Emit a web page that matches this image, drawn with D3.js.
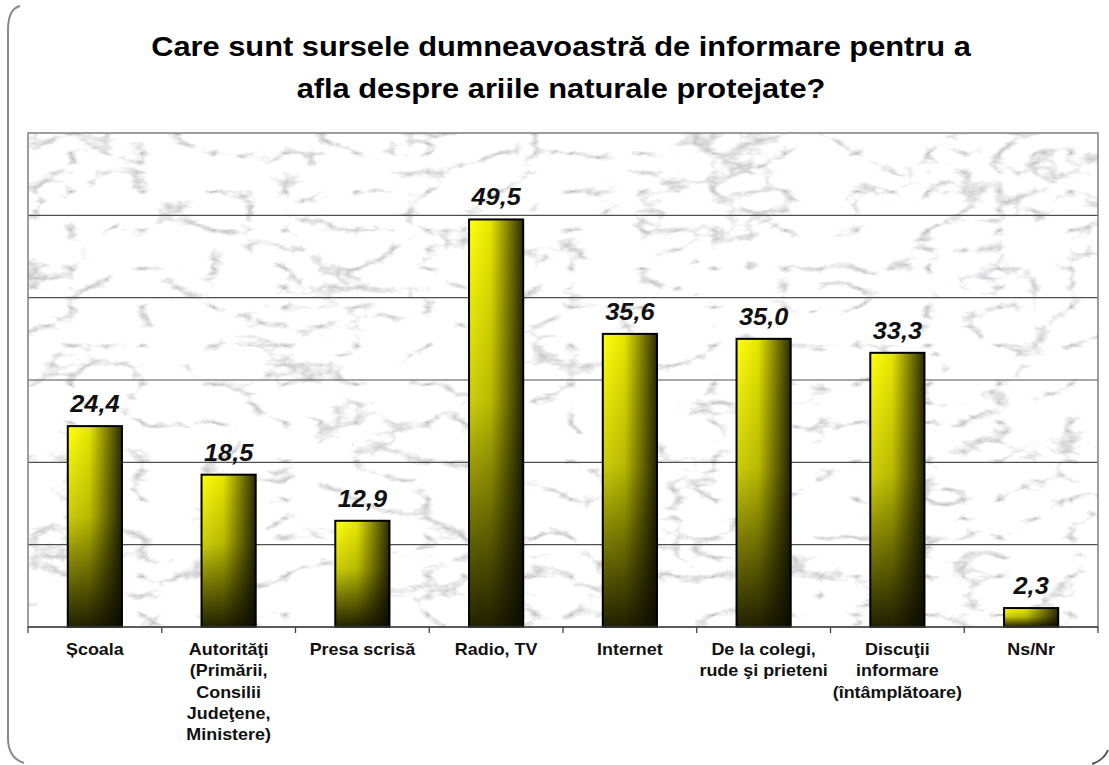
<!DOCTYPE html>
<html>
<head>
<meta charset="utf-8">
<script src="https://cdn.jsdelivr.net/npm/d3@7"></script>
<style>
  body { margin: 0; background: #fff; }
  svg { display: block; font-family: "Liberation Sans", Arial, sans-serif; }
</style>
</head>
<body>
<svg width="1109" height="765"></svg>
<script>
const svg = d3.select("svg");

const width = +svg.attr("width");
const height = +svg.attr("height");

// data
const titleLines = [
    "Care sunt sursele dumneavoastră de informare pentru a",
    "afla despre ariile naturale protejate?"
];
const categories = [
    "Școala",
    "Autorităţi\n(Primării,\nConsilii\nJudeţene,\nMinistere)",
    "Presa scrisă",
    "Radio, TV",
    "Internet",
    "De la colegi,\nrude şi prieteni",
    "Discuţii\ninformare\n(întâmplătoare)",
    "Ns/Nr"
];
const values = [24.4, 18.5, 12.9, 49.5, 35.6, 35.0, 33.3, 2.3];
const yTicks = [0, 10, 20, 30, 40, 50, 60];

const data = categories.map((c, i) => ({ cat: c, val: values[i] }));

const plot = { left: 28, right: 1098, top: 133, bottom: 627 };
const stretch = 1.12; // picture text is a bit wide

const xScale = d3.scaleBand()
    .domain(categories)
    .range([plot.left, plot.right]);

const yScale = d3.scaleLinear()
    .domain([0, d3.max(yTicks)])
    .range([plot.bottom, plot.top]);

const barW = xScale.bandwidth() * 0.405;
const fmt = d => d3.format(".1f")(d).replace(".", ",");

const defs = svg.append("defs");

// marble look for the plot area
const filt = defs.append("filter").attr("id", "marble")
    .attr("x", 0).attr("y", 0).attr("width", "100%").attr("height", "100%");
filt.append("feTurbulence")
    .attr("type", "turbulence")
    .attr("baseFrequency", "0.014 0.026")
    .attr("numOctaves", 5)
    .attr("seed", 11);
filt.append("feColorMatrix")
    .attr("type", "matrix")
    .attr("values",
        "2.2 0 0 0 0.5  2.2 0 0 0 0.5  2.2 0 0 0 0.51  0 0 0 0 1");

const hGrad = defs.append("linearGradient").attr("id", "barH")
    .attr("x1", 0).attr("x2", 1).attr("y1", 0).attr("y2", 0);
hGrad.append("stop").attr("offset", "0%").attr("stop-color", "#ffff10");
hGrad.append("stop").attr("offset", "40%").attr("stop-color", "#e6e600");
hGrad.append("stop").attr("offset", "100%").attr("stop-color", "#2e2c00");

const vGrad = defs.append("linearGradient").attr("id", "barV")
    .attr("x1", 0).attr("x2", 0).attr("y1", 0).attr("y2", 1);
vGrad.append("stop").attr("offset", "0%").attr("stop-color", "#000").attr("stop-opacity", 0);
vGrad.append("stop").attr("offset", "45%").attr("stop-color", "#000").attr("stop-opacity", 0.2);
vGrad.append("stop").attr("offset", "100%").attr("stop-color", "#0a0a00").attr("stop-opacity", 0.9);

// frame at left edge
svg.append("path")
    .attr("d", "M20,6 Q8,9 8,30 L8,738 Q8,758 24,763")
    .attr("fill", "none")
    .attr("stroke", "#8a8a8a")
    .attr("stroke-width", 2);
svg.append("path")
    .attr("d", "M1092,764 Q1104,760 1108,750")
    .attr("fill", "none")
    .attr("stroke", "#555")
    .attr("stroke-width", 2);

// title
svg.append("g").selectAll("text").data(titleLines)
    .enter().append("text")
        .attr("transform", (d, i) => `translate(561, ${56 + i * 42}) scale(1.1,1)`)
        .attr("text-anchor", "middle")
        .attr("font-size", 28)
        .attr("font-weight", "bold")
        .attr("fill", "#000")
        .text(d => d);

// plot area
svg.append("rect")
    .attr("x", plot.left).attr("y", plot.top)
    .attr("width", plot.right - plot.left).attr("height", plot.bottom - plot.top)
    .attr("fill", "#eee")
    .attr("filter", "url(#marble)");

const g = svg.append("g");

// gridlines
g.selectAll("line.grid").data(yTicks.slice(1, -1))
    .enter().append("line")
        .attr("class", "grid")
        .attr("x1", plot.left).attr("x2", plot.right)
        .attr("y1", d => yScale(d)).attr("y2", d => yScale(d))
        .attr("stroke", "#505050")
        .attr("stroke-width", 1.2);

g.append("rect")
    .attr("x", plot.left).attr("y", plot.top)
    .attr("width", plot.right - plot.left).attr("height", plot.bottom - plot.top)
    .attr("fill", "none")
    .attr("stroke", "#7f7f7f")
    .attr("stroke-width", 1.5);

// bars
const bars = g.selectAll("g.bar").data(data)
    .enter().append("g").attr("class", "bar");

bars.append("rect")
    .attr("x", d => xScale(d.cat) + (xScale.bandwidth() - barW) / 2)
    .attr("y", d => yScale(d.val))
    .attr("width", barW)
    .attr("height", d => yScale(0) - yScale(d.val))
    .attr("fill", "url(#barH)");

bars.append("rect")
    .attr("x", d => xScale(d.cat) + (xScale.bandwidth() - barW) / 2)
    .attr("y", d => yScale(d.val))
    .attr("width", barW)
    .attr("height", d => yScale(0) - yScale(d.val))
    .attr("fill", "url(#barV)")
    .attr("stroke", "#000")
    .attr("stroke-width", 2);

// value labels
bars.append("text")
    .attr("transform", d => `translate(${xScale(d.cat) + xScale.bandwidth() / 2}, ${yScale(d.val) - 14}) scale(1.1,1)`)
    .attr("text-anchor", "middle")
    .attr("font-size", 23)
    .attr("font-weight", "bold")
    .attr("font-style", "italic")
    .attr("fill", "#111")
    .text(d => fmt(d.val));

// x axis: line + ticks at category borders
g.append("line")
    .attr("x1", plot.left).attr("x2", plot.right)
    .attr("y1", plot.bottom).attr("y2", plot.bottom)
    .attr("stroke", "#444").attr("stroke-width", 1.5);

const borders = categories.map(c => xScale(c)).concat([plot.right]);
g.selectAll("line.tick").data(borders)
    .enter().append("line")
        .attr("class", "tick")
        .attr("x1", d => d).attr("x2", d => d)
        .attr("y1", plot.bottom).attr("y2", plot.bottom + 6)
        .attr("stroke", "#444").attr("stroke-width", 1.3);

const labels = g.selectAll("g.lab").data(categories)
    .enter().append("g")
        .attr("class", "lab")
        .attr("transform", d => `translate(${xScale(d) + xScale.bandwidth() / 2}, 655)`);

labels.selectAll("text").data(d => d.split("\n"))
    .enter().append("text")
        .attr("transform", (d, i) => `translate(0, ${i * 21.3}) scale(${stretch},1)`)
        .attr("text-anchor", "middle")
        .attr("font-size", 16)
        .attr("font-weight", "bold")
        .attr("fill", "#111")
        .text(d => d);
</script>
</body>
</html>
